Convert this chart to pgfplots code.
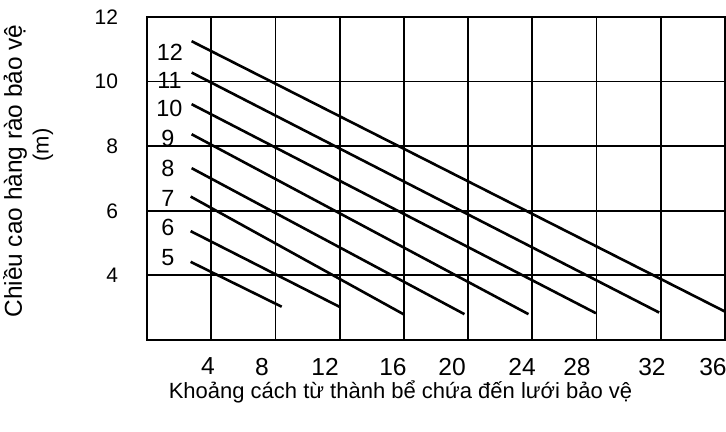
\documentclass[border=0pt]{standalone}
\usepackage{fontspec}
\setmainfont{Liberation Sans}
\usepackage{pgfplots}
\pgfplotsset{compat=1.18}
\begin{document}
\begin{tikzpicture}
\useasboundingbox (-73.5pt,-46pt) rectangle (289.5pt,170pt);
\begin{axis}[
  at={(0,0)}, anchor=south west,
  scale only axis, width=289pt, height=161.5pt,
  xmin=0, xmax=36, ymin=2, ymax=12,
  xtick={4,8,...,32}, xticklabels={},
  ytick={4,6,8,10,12},
  extra x ticks={3.80,7.16,11.09,15.32,19.0,23.36,26.78,31.45,35.25},
  extra x tick labels={4,8,12,16,20,24,28,32,36},
  extra x tick style={grid=none, major tick length=0pt},
  grid=major, major grid style={black, line width=0.9pt},
  major tick length=0pt,
  axis line style={black, line width=1pt},
  yticklabel style={font=\fontsize{10.5}{11}\selectfont, xshift=-11pt},
  xticklabel style={font=\fontsize{12.3}{13}\selectfont, yshift=-5.5pt},
  /pgf/number format/assume math mode=true,
  clip=false,
]
\addplot[black, line width=1.3pt] coordinates {(2.78,11.25) (36,2.88)};
\addplot[black, line width=1.3pt] coordinates {(2.78,10.28) (31.9,2.85)};
\addplot[black, line width=1.3pt] coordinates {(2.78,9.30) (27.96,2.83)};
\addplot[black, line width=1.3pt] coordinates {(2.78,8.37) (23.76,2.80)};
\addplot[black, line width=1.3pt] coordinates {(2.78,7.32) (19.77,2.80)};
\addplot[black, line width=1.3pt] coordinates {(2.72,6.44) (15.97,2.80)};
\addplot[black, line width=1.3pt] coordinates {(2.72,5.37) (11.98,3.03)};
\addplot[black, line width=1.3pt] coordinates {(2.72,4.42) (8.39,3.03)};
\begin{scope}[every node/.style={font=\fontsize{11.7}{12}\selectfont, inner sep=0pt}]
\node at (axis cs:1.43,10.92) {12};
\node at (axis cs:1.40,10.05) {11};
\node at (axis cs:1.40,9.18) {10};
\node at (axis cs:1.30,8.25) {9};
\node at (axis cs:1.30,7.32) {8};
\node at (axis cs:1.30,6.37) {7};
\node at (axis cs:1.30,5.47) {6};
\node at (axis cs:1.30,4.54) {5};
\end{scope}
\node[anchor=base, font=\fontsize{11}{12}\selectfont, inner sep=0pt] at ([yshift=-29.5pt]axis description cs:0.4386,0) {Khoảng cách từ thành bể chứa đến lưới bảo vệ};
\node[rotate=90, font=\fontsize{12.2}{13}\selectfont, inner sep=0pt] at ([xshift=-66pt]axis description cs:0,0.523) {Chiều cao hàng rào bảo vệ};
\node[rotate=90, font=\fontsize{11}{12}\selectfont, inner sep=0pt] at ([xshift=-52pt]axis description cs:0,0.604) {(m)};
\end{axis}
\end{tikzpicture}
\end{document}
